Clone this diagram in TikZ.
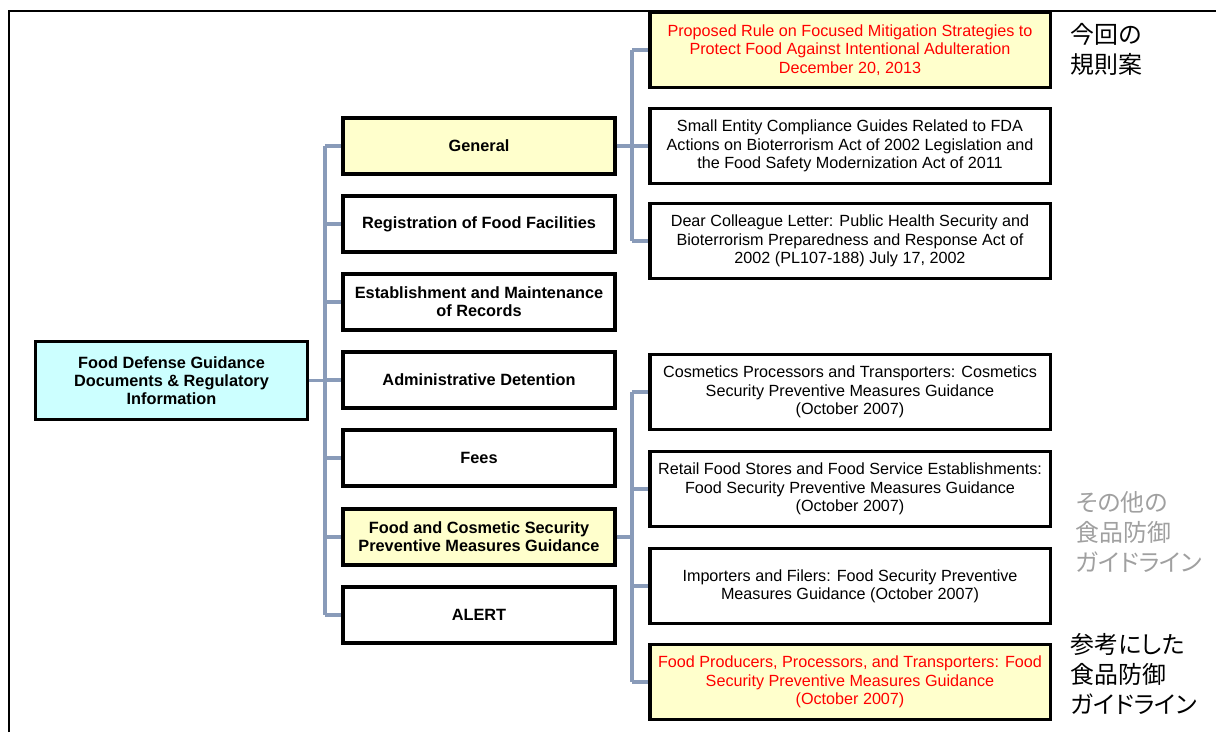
\documentclass[tikz,border=0pt]{standalone}
\usepackage{fontspec}
\setmainfont{Liberation Sans}
\newfontfamily\jpfont[RawFeature=+palt]{Noto Sans CJK JP}
\definecolor{linkblue}{RGB}{137,155,185}
\definecolor{paleyellow}{RGB}{255,255,204}
\definecolor{palecyan}{RGB}{204,255,255}
\definecolor{notegray}{RGB}{160,160,160}
\begin{document}
\begin{tikzpicture}[
            x=0.025cm, y=-0.025cm,
            every node/.style={font=\sffamily},
            topic/.style={
                rectangle,
                draw=black,
                line width=2.2pt,
                fill=white,
                minimum width=6.8cm,
                minimum height=1.4cm,
                align=center,
                font=\bfseries\fontsize{11.6}{12.6}\selectfont
            },
            doc/.style={
                rectangle,
                draw=black,
                line width=2.2pt,
                fill=white,
                minimum width=10cm,
                minimum height=1.87cm,
                align=center,
                font=\fontsize{11.5}{13}\selectfont
            },
            picked/.style={
                fill=paleyellow,
                text=red
            },
            link/.style={
                draw=linkblue,
                line width=2.2pt
            },
            note/.style={
                anchor=north west,
                align=left,
                font=\jpfont\fontsize{17}{21.5}\selectfont
            }
        ]
            \useasboundingbox (0,0) rectangle (1216,732);
            % Frame
            \draw[line width=1.1pt] (9,732) -- (9,11) -- (1216,11);

            % Root
            \node[topic, fill=palecyan, minimum width=6.78cm, minimum height=1.93cm] (root) at (171.5,380.5)
                {Food Defense Guidance\\Documents \& Regulatory\\Information};

            % Topics
            \node[topic, fill=paleyellow] (general) at (479,146) {General};
            \node[topic] (registration) at (479,224) {Registration of Food Facilities};
            \node[topic] (records) at (479,302) {Establishment and Maintenance\\of Records};
            \node[topic] (detention) at (479,380) {Administrative Detention};
            \node[topic] (fees) at (479,458) {Fees};
            \node[topic, fill=paleyellow] (security) at (479,537) {Food and Cosmetic Security\\Preventive Measures Guidance};
            \node[topic] (alert) at (479,615) {ALERT};

            % General documents
            \node[doc, picked] (proposed) at (850,50)
                {Proposed Rule on Focused Mitigation Strategies to\\Protect Food Against Intentional Adulteration\\December 20, 2013};
            \node[doc] (smallentity) at (850,146)
                {Small Entity Compliance Guides Related to FDA\\Actions on Bioterrorism Act of 2002 Legislation and\\the Food Safety Modernization Act of 2011};
            \node[doc] (colleague) at (850,241)
                {Dear Colleague Letter: Public Health Security and\\Bioterrorism Preparedness and Response Act of\\2002 (PL107-188) July 17, 2002};

            % Security guidance documents
            \node[doc] (cosmetics) at (850,392)
                {Cosmetics Processors and Transporters: Cosmetics\\Security Preventive Measures Guidance\\(October 2007)};
            \node[doc] (retail) at (850,489)
                {Retail Food Stores and Food Service Establishments:\\Food Security Preventive Measures Guidance\\(October 2007)};
            \node[doc] (importers) at (850,586)
                {Importers and Filers: Food Security Preventive\\Measures Guidance (October 2007)};
            \node[doc, picked] (producers) at (850,682)
                {Food Producers, Processors, and Transporters: Food\\Security Preventive Measures Guidance\\(October 2007)};

            % Spines
            \coordinate (spine) at (325,0);
            \coordinate (branch) at (632,0);

            % Root to topics
            \draw[link] (root.east) -- (spine |- root.east);
            \draw[link] (spine |- general.west) -- (spine |- alert.west);
            \foreach \t in {general,registration,records,detention,fees,security,alert}
                \draw[link] (spine |- \t.west) -- (\t.west);

            % General to documents
            \draw[link] (general.east) -- (branch |- general.east);
            \draw[link] (branch |- proposed.west) -- (branch |- colleague.west);
            \foreach \d in {proposed,smallentity,colleague}
                \draw[link] (branch |- \d.west) -- (\d.west);

            % Security to documents
            \draw[link] (security.east) -- (branch |- security.east);
            \draw[link] (branch |- cosmetics.west) -- (branch |- producers.west);
            \foreach \d in {cosmetics,retail,importers,producers}
                \draw[link] (branch |- \d.west) -- (\d.west);

            % Notes on the right
            \node[note] (thisrule) at (1066,18) {今回の\\規則案};
            \node[note, text=notegray] (others) at (1071,486) {その他の\\食品防御\\ガイドライン};
            \node[note] (reference) at (1066,628) {参考にした\\食品防御\\ガイドライン};
        \end{tikzpicture}
\end{document}
